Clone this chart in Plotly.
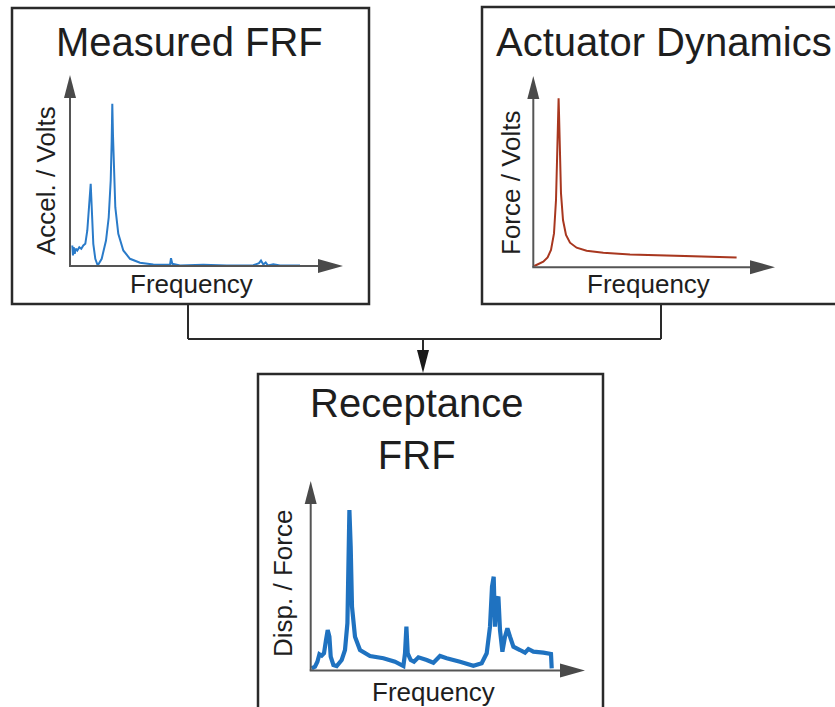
import plotly.graph_objects as go

W, H = 835, 707

# ---------------- data ----------------
# Measured FRF  (Accel. / Volts vs Frequency)
meas_freq = [2.3, 3.0, 3.7, 4.7, 5.7, 7.3, 9.3, 11.3, 13.3, 15.3, 17.3, 19.0, 20.0, 20.7, 21.3, 22.0, 23.3,
             25.3, 27.7, 31.7, 34.0, 36.0, 38.7, 40.7, 41.7, 42.3, 43.0, 43.7, 45.3, 48.3, 53.3, 60.0, 70.0, 83.3,
             100.0, 101.0, 102.3, 110.0, 133.3, 156.7, 183.3, 189.0, 191.0, 193.3, 195.7, 198.0,
             203.3, 210.0, 230.0]
meas_amp = [20.0, 10.0, 18.3, 11.7, 16.7, 15.0, 18.3, 16.7, 20.0, 21.7, 35.0, 55.0, 70.0, 81.7, 68.0, 51.7, 21.7,
            6.7, 0.0, 6.7, 15.0, 25.0, 48.0, 85.0, 125.0, 161.7, 130.0, 101.7, 58.3, 31.7, 15.0, 6.7, 2.7, 1.0,
            0.7, 7.3, 1.7, 0.0, 0.7, 0.0, 0.3, 2.3, 5.0, 1.0, 3.0, 0.0,
            1.3, 0.0, 0.0]

# Actuator Dynamics  (Force / Volts vs Frequency)
act_freq = [1.0, 5.0, 10.0, 14.3, 17.7, 20.7, 22.7, 24.0, 24.8, 25.3, 25.8, 26.3, 27.7, 29.7, 32.7, 36.7,
            43.3, 53.3, 70.0, 96.7, 130.0, 163.3, 203.3]
act_amp = [0.7, 2.3, 5.0, 9.3, 16.7, 33.3, 66.7, 116.7, 150.0, 168.3, 150.0, 123.3, 73.3, 46.7, 31.7, 24.0,
           19.0, 16.0, 14.0, 12.3, 11.3, 10.7, 9.3]

# Receptance FRF  (Disp. / Force vs Frequency)
rec_freq = [1.0, 4.3, 6.7, 8.7, 11.0, 13.3, 15.3, 17.0, 18.7, 20.0, 22.7, 26.0, 31.0, 34.3, 36.7,
            38.0, 38.7, 40.0, 41.3, 44.3, 49.3, 59.3, 72.7, 84.3, 92.7, 94.3, 95.7, 97.0, 100.0,
            103.3, 107.7, 116.0, 122.7, 129.3, 136.0, 149.3, 162.7, 171.0, 176.0, 179.3, 181.3,
            183.0, 184.3, 186.0, 187.7, 189.3, 191.7, 194.3, 196.7, 199.3, 202.7, 209.3, 214.3,
            217.7, 222.7, 232.7, 240.3, 241.0]
rec_amp = [1.7, 3.3, 8.3, 15.7, 14.3, 16.7, 30.0, 40.0, 33.3, 13.3, 5.0, 4.0, 10.0, 20.0, 46.7,
           123.3, 160.0, 123.3, 63.3, 33.3, 20.0, 14.0, 11.7, 8.3, 4.0, 16.7, 43.3, 16.7, 10.0,
           8.3, 12.7, 10.0, 7.3, 14.0, 11.7, 8.3, 4.3, 6.7, 16.7, 43.3, 83.3,
           93.3, 43.3, 70.0, 73.3, 40.0, 18.3, 33.3, 41.7, 33.3, 23.3, 20.0, 17.3,
           21.0, 18.3, 17.3, 16.0, 1.7]

titles = ["Measured FRF", "Actuator Dynamics", "Receptance<br>FRF"]
ylabels = ["Accel. / Volts", "Force / Volts", "Disp. / Force"]
xlabel = "Frequency"

# ---------------- helpers (pixel -> paper) ----------------
def X(p):
    return p / W

def Y(p):
    return 1 - p / H

FONT = "Arial, 'Liberation Sans', Helvetica, sans-serif"
TXT = "#1e1e1e"
AX = "#555555"
HEAD = "#4a4a4a"
BOX = "#2a2a2a"

fig = go.Figure()

fig.add_trace(go.Scatter(x=meas_freq, y=meas_amp, mode="lines", xaxis="x", yaxis="y",
                         line=dict(color="#2a7bc9", width=2), showlegend=False, hoverinfo="skip"))
fig.add_trace(go.Scatter(x=act_freq, y=act_amp, mode="lines", xaxis="x2", yaxis="y2",
                         line=dict(color="#a8371f", width=2), showlegend=False, hoverinfo="skip"))
fig.add_trace(go.Scatter(x=rec_freq, y=rec_amp, mode="lines", xaxis="x3", yaxis="y3",
                         line=dict(color="#1f72c0", width=4.2), showlegend=False, hoverinfo="skip"))

# mini-chart frames in pixels: (origin_x, origin_y, x_tip, y_tip)
charts = [(70, 265.5, 343, 75), (533.3, 266.7, 775, 76), (310.7, 670, 585, 481)]

def ax_common():
    return dict(visible=False, fixedrange=True, showgrid=False, zeroline=False)

layout_axes = {}
for i, (ox, oy, xt, yt) in enumerate(charts):
    sfx = "" if i == 0 else str(i + 1)
    layout_axes["xaxis" + sfx] = dict(domain=[X(ox), X(xt)], range=[0, xt - ox],
                                      anchor="y" + sfx, **ax_common())
    layout_axes["yaxis" + sfx] = dict(domain=[Y(oy), Y(yt)], range=[0, oy - yt],
                                      anchor="x" + sfx, **ax_common())

shapes = []
# boxes
for (x0, y0, x1, y1) in [(12, 8, 369, 304), (482, 7, 845, 304), (258, 374, 603, 720)]:
    shapes.append(dict(type="rect", xref="paper", yref="paper", x0=X(x0), x1=X(x1),
                       y0=Y(y1), y1=Y(y0), line=dict(color=BOX, width=2.5), layer="below"))
# connectors
conn = [((188, 305), (188, 339)), ((661, 305), (661, 339)), ((188, 339), (661, 339)),
        ((423, 339), (423, 352))]
for (a, b) in conn:
    shapes.append(dict(type="line", xref="paper", yref="paper", x0=X(a[0]), y0=Y(a[1]),
                       x1=X(b[0]), y1=Y(b[1]), line=dict(color=BOX, width=2)))
shapes.append(dict(type="path", xref="paper", yref="paper",
                   path=f"M {X(417)} {Y(350)} L {X(429)} {Y(350)} L {X(423)} {Y(373)} Z",
                   fillcolor="#1a1a1a", line=dict(width=0)))

# axes with arrowheads
for i, (ox, oy, xt, yt) in enumerate(charts):
    oyl = oy + 0.5
    shapes.append(dict(type="line", xref="paper", yref="paper", x0=X(ox), y0=Y(oyl),
                       x1=X(ox), y1=Y(yt + 20), line=dict(color=AX, width=2)))
    shapes.append(dict(type="line", xref="paper", yref="paper", x0=X(ox - 1), y0=Y(oyl),
                       x1=X(xt - 22), y1=Y(oyl), line=dict(color=AX, width=2)))
    shapes.append(dict(type="path", xref="paper", yref="paper",
                       path=f"M {X(ox-6)} {Y(yt+23)} L {X(ox+6)} {Y(yt+23)} L {X(ox)} {Y(yt)} Z",
                       fillcolor=HEAD, line=dict(width=0)))
    shapes.append(dict(type="path", xref="paper", yref="paper",
                       path=f"M {X(xt-25)} {Y(oyl-7)} L {X(xt-25)} {Y(oyl+7)} L {X(xt)} {Y(oyl)} Z",
                       fillcolor=HEAD, line=dict(width=0)))

annotations = []
def txt(text, x, y, size, angle=0):
    annotations.append(dict(text=text, x=X(x), y=Y(y), xref="paper", yref="paper",
                            showarrow=False, xanchor="center", yanchor="middle",
                            textangle=angle, font=dict(family=FONT, size=size, color=TXT)))

txt(titles[0], 189, 42, 40)
txt(titles[1], 664, 42, 40)
annotations.append(dict(text=titles[2], x=X(416), y=Y(429), xref="paper", yref="paper",
                        showarrow=False, xanchor="center", yanchor="middle",
                        font=dict(family=FONT, size=40, color=TXT)))

txt(ylabels[0], 46, 181, 26, -90)
txt(ylabels[1], 511, 182, 26, -90)
txt(ylabels[2], 283, 584, 26, -90)

txt(xlabel, 191, 284, 26)
txt(xlabel, 648, 284, 26)
txt(xlabel, 433, 692, 26)

fig.update_layout(width=W, height=H, margin=dict(l=0, r=0, t=0, b=0),
                  paper_bgcolor="white", plot_bgcolor="rgba(0,0,0,0)",
                  shapes=shapes, annotations=annotations, showlegend=False,
                  **layout_axes)

fig.write_html("out.html")
